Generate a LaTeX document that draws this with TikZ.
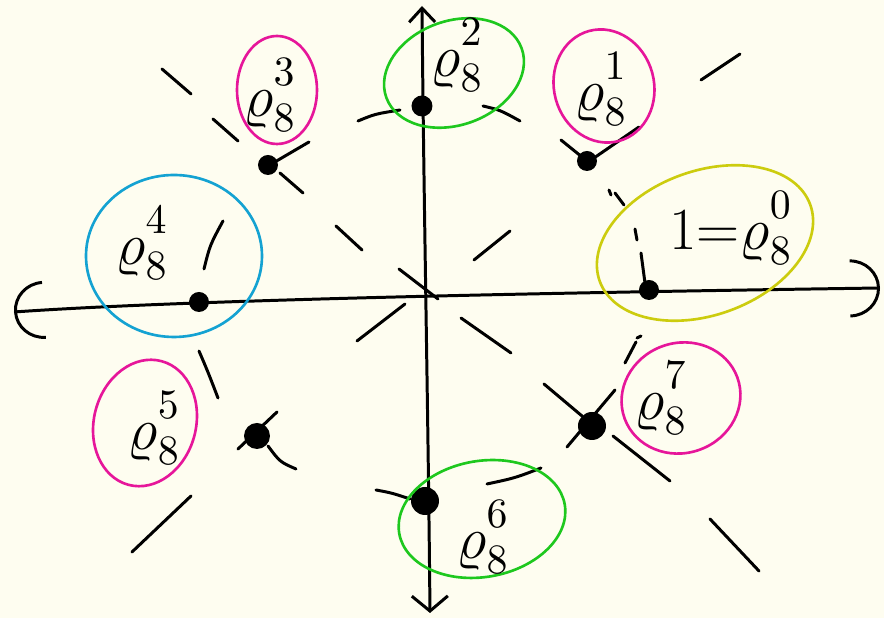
\RequirePackage{fix-cm}
\documentclass[tikz,border=0pt]{standalone}
\usepackage{amsmath,amssymb}
\usepackage{tikz}
\usetikzlibrary{arrows.meta}
\definecolor{paper}{HTML}{FEFDF0}
\definecolor{rootpink}{HTML}{E6169A}
\definecolor{rootgreen}{HTML}{1EC81E}
\definecolor{rootcyan}{HTML}{14A2D2}
\definecolor{rootyellow}{HTML}{CCCC0E}
\newcommand{\rt}[1]{\varrho_{8}^{\raisebox{0.15em}{$\scriptstyle #1$}}}

\begin{document}
\begin{tikzpicture}[x=0.1mm,y=-0.1mm,
    pen/.style={line width=0.85pt,line cap=round},
    ring/.style={draw=#1,line width=0.75pt},
    root/.style={circle,fill=black,inner sep=0pt,minimum size=#1 mm},
    lbl/.style={font=\fontsize{17}{20}\selectfont,inner sep=0pt}]
    \fill[paper] (0,0) rectangle (884,618);
    \useasboundingbox (0,0) rectangle (884,618);

    \coordinate (W) at (14,312);
    \coordinate (E) at (880,288);
    \coordinate (N) at (422,6);
    \coordinate (S) at (430,613);
    \draw[pen,{Arc Barb[length=3mm,width=5.8mm]}-{Arc Barb[length=3mm,width=5.8mm]}]
      (W) .. controls (200,299) and (600,292) .. (E);
    \draw[pen,{Straight Barb[length=1.4mm,width=2.6mm]}-{Straight Barb[length=1.5mm,width=3.6mm]}]
      (N) .. controls (424,220) and (428,400) .. (S);

    \draw[pen] (162,69) -- (191,94) (213,119) -- (238,141) (280,173) -- (303,193)
      (336,226) -- (362,250) (399,269) -- (438,299)
      (701,80) -- (740,54) (594,158) -- (639,127) (474,260) -- (510,231)
      (357,341) -- (405,304) (238,449) -- (277,412) (132,552) -- (191,496)
      (461,318) -- (511,353) (544,384) -- (582,416) (613,436) -- (670,481) (710,519) -- (759,571);
    \draw[pen] (268,166) -- (309,142) (358,121) .. controls (375,114) .. (400,110)
      (483,106) .. controls (500,110) .. (520,121) (561,140) -- (582,157)
      (609,190) -- (611,195) (615,193) -- (624,205) (635,229) -- (637,240) (641,253) -- (645,283)
      (625,363) -- (636,342) (637,338) -- (641,336) (567,447) -- (615,390)
      (487,484) .. controls (515,478) .. (541,468) (376,490) .. controls (392,493) .. (410,499)
      (268,446) .. controls (280,462) .. (296,469) (199,351) .. controls (208,372) .. (218,398)
      (204,269) .. controls (210,245) .. (223,221);

    \foreach \k/\x/\y/\s in {0/649/290/2.0,1/587/161/2.0,2/422/106/2.1,3/268/165/2.0,
                             4/199/302/2.0,5/257/436/2.6,6/425/501/2.8,7/592/426/2.8}{
      \node[root=\s] (p\k) at (\x,\y) {};
    }

    \draw[ring=rootyellow,rotate around={20:(705,243)}] (705,243) ellipse [x radius=112,y radius=72];
    \draw[ring=rootpink,rotate around={15:(604,86)}] (604,86) ellipse [x radius=50,y radius=57];
    \draw[ring=rootgreen,rotate around={20:(454,73)}] (454,73) ellipse [x radius=72,y radius=52];
    \draw[ring=rootpink] (277,90) ellipse [x radius=40,y radius=54];
    \draw[ring=rootcyan] (174,256) ellipse [x radius=88,y radius=81];
    \draw[ring=rootpink,rotate around={-15:(145,423)}] (145,423) ellipse [x radius=51,y radius=64];
    \draw[ring=rootgreen,rotate around={10:(482,519)}] (482,519) ellipse [x radius=84,y radius=58];
    \draw[ring=rootpink,rotate around={20:(681,398)}] (681,398) ellipse [x radius=60,y radius=55];

    \node[lbl] (r0) at (731,228) {$1{=}\rt{0}$};
    \node[lbl] (r1) at (601,89) {$\rt{1}$};
    \node[lbl] (r2) at (457,55) {$\rt{2}$};
    \node[lbl] (r3) at (270,95) {$\rt{3}$};
    \node[lbl] (r4) at (142,243) {$\rt{4}$};
    \node[lbl] (r5) at (154,428) {$\rt{5}$};
    \node[lbl] (r6) at (483,537) {$\rt{6}$};
    \node[lbl] (r7) at (661,398) {$\rt{7}$};
\end{tikzpicture}
\end{document}
